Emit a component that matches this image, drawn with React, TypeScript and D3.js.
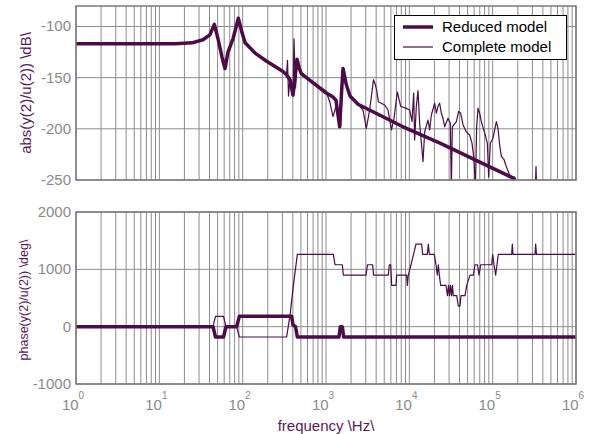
import React from "react";
import * as d3 from "d3";

// ---------- DATA ----------
const reducedMagFreq = [1, 15.4, 24.7, 33.4, 40.6, 45.7, 50.6, 56.5, 61.4, 66.7, 76.6, 88.7, 98.2, 107, 141, 194, 305, 334, 370, 402, 425, 449, 474, 505, 964, 1213, 1318, 1459, 1535, 1600, 1754, 1941, 2421, 8395, 23330, 175400, 185400];
const reducedMagDb = [-117, -117, -116, -113, -108, -98, -112, -130, -141, -125, -112, -92, -106, -116, -126, -134, -144, -147, -152, -167, -150, -132, -140, -146, -164, -169, -172, -198, -165, -141, -157, -168, -176, -198, -214, -248, -250];

const completeMagFreq = [1, 15.4, 24.7, 33.4, 40.6, 45.7, 50.6, 56.5, 61.4, 66.7, 76.6, 88.7, 98.2, 107, 141, 194, 305, 336, 345, 355, 370, 391, 402, 413, 431, 449, 474, 505, 643, 847, 1000, 1107, 1213, 1330, 1393, 1500, 1600, 1675, 1923, 2421, 2780, 3048, 3342, 3499, 3715, 3908, 4055, 4246, 5058, 5546, 6109, 6546, 7178, 7870, 9204, 10090, 10770, 11270, 11590, 12130, 12710, 13300, 14590, 15280, 16750, 17540, 18370, 20140, 21090, 22080, 23120, 24210, 25350, 26550, 29110, 31050, 31920, 32810, 36640, 39090, 41300, 44060, 48310, 52970, 56490, 59700, 61940, 64270, 66680, 69820, 73110, 80170, 86300, 89540, 93760, 100900, 110700, 115900, 121300, 127100, 136800, 145900, 160000, 175400, 183700, 195900, 322100, 331100, 340400, 1000000];
const completeMagDb = [-117, -117, -116, -113, -108, -98, -112, -130, -141, -125, -112, -92, -106, -116, -126, -134, -144, -148, -133, -168, -150, -160, -168, -112, -160, -133, -140, -145, -152, -159, -163, -173.5, -188, -177, -188, -198, -140, -152, -167, -176, -181.6, -199.5, -181.6, -168.6, -152, -157, -162, -173.5, -176.7, -181.6, -201, -189.7, -164, -178, -180, -181.6, -193, -165, -211, -178, -162.7, -194.6, -232, -203, -191.4, -201, -186.5, -175, -184.8, -178, -175, -184.8, -189.7, -198, -189.7, -194.6, -260, -198, -193, -183, -184.8, -196, -203, -206, -214, -230, -260, -198, -180, -184.8, -193, -204, -214, -247, -214, -209, -193, -199.5, -215.8, -227, -230, -237, -245, -248, -247, -262, -270, -237, -270, -280];

const reducedPhaseFreq = [1, 44.1, 47.2, 58.9, 63.1, 84.7, 91.2, 387, 402, 431, 453, 1432, 1486, 1570, 1629, 1000000];
const reducedPhaseDeg = [0, 0, -180, -180, 0, 0, 180, 180, 30, 0, -180, -180, 0, 0, -180, -180];

const completePhaseFreq = [1, 44.1, 47.2, 58.9, 63.1, 84.7, 91.2, 337, 370, 406, 453, 1225, 1283, 1570, 1614, 3020, 3148, 3631, 3715, 5598, 5754, 5970, 6138, 6918, 7047, 9290, 9462, 9727, 10470, 11220, 12020, 14060, 14450, 16440, 16900, 17380, 19950, 20890, 21680, 22280, 22910, 23770, 27540, 28710, 29510, 30340, 31190, 32060, 32960, 33730, 36980, 38730, 40550, 41690, 46560, 48750, 53460, 58610, 61380, 65770, 68550, 71780, 97270, 100000, 103700, 108600, 112700, 116900, 169000, 172200, 175400, 322100, 328100, 335700, 1000000];
const completePhaseDeg = [0, 0, 180, 180, 0, 0, -180, -180, 200, 720, 1260, 1260, 1080, 1080, 900, 900, 1080, 1080, 900, 900, 1080, 1080, 720, 720, 900, 900, 720, 900, 1080, 1260, 1440, 1440, 1260, 1260, 1440, 1260, 1260, 1080, 900, 1080, 900, 720, 720, 540, 720, 540, 720, 540, 720, 540, 540, 360, 360, 540, 540, 720, 900, 900, 1080, 1080, 900, 1080, 1080, 1260, 1080, 900, 1080, 1260, 1260, 1440, 1260, 1260, 1440, 1260, 1260];

const magTicks = [-250, -200, -150, -100];
const phaseTicks = [-1000, 0, 1000, 2000];
const decadeExponents = [0, 1, 2, 3, 4, 5, 6];
const legendLabels = ["Reduced model", "Complete model"];

// ---------- STYLE ----------
const W = 598;
const H = 434;
const LEFT = 76;
const RIGHT = 576;
const TOP1 = 6;
const BOT1 = 180;
const TOP2 = 212;
const BOT2 = 384;
const LINE = "#4b0c47";
const LABEL = "#5a1a58";
const TICK = "#8a8a8a";
const GRID = "#8c8c8c";
const FONT = "Liberation Sans, Arial, Helvetica, sans-serif";

export default function App() {
  const x = d3.scaleLog().domain([1, 1e6]).range([LEFT, RIGHT]);
  const yMag = d3.scaleLinear().domain([-250, -80]).range([BOT1, TOP1]);
  const yPh = d3.scaleLinear().domain([-1000, 2000]).range([BOT2, TOP2]);

  const minorTicks: number[] = [];
  for (let e = 0; e < 6; e++) {
    for (let m = 1; m <= 9; m++) minorTicks.push(m * Math.pow(10, e));
  }
  minorTicks.push(1e6);

  const mkLine = (fs: number[], vs: number[], y: d3.ScaleLinear<number, number>) =>
    d3.line<number>().x((_, i) => x(fs[i])).y((v) => y(v))(vs) || "";

  const magRed = mkLine(reducedMagFreq, reducedMagDb, yMag);
  const magCom = mkLine(completeMagFreq, completeMagDb, yMag);
  const phRed = mkLine(reducedPhaseFreq, reducedPhaseDeg, yPh);
  const phCom = mkLine(completePhaseFreq, completePhaseDeg, yPh);

  const panel = (top: number, bot: number, y: d3.ScaleLinear<number, number>, ticks: number[]) => (
    <g>
      {minorTicks.map((t, i) => (
        <line key={"v" + i} x1={x(t)} x2={x(t)} y1={top} y2={bot} stroke={GRID} strokeWidth={1} />
      ))}
      {ticks.map((t, i) => (
        <line key={"h" + i} x1={LEFT} x2={RIGHT} y1={y(t)} y2={y(t)} stroke={GRID} strokeWidth={1} />
      ))}
    </g>
  );

  const frame = (top: number, bot: number) => (
    <rect x={LEFT} y={top} width={RIGHT - LEFT} height={bot - top} fill="none" stroke="#7a7a7a" strokeWidth={1.5} />
  );

  const lx = 403;
  return (
    <svg width={W} height={H} style={{ position: "absolute", left: 0, top: 0, background: "#fff" }} fontFamily={FONT}>
      <defs>
        <clipPath id="c1">
          <rect x={LEFT} y={TOP1} width={RIGHT - LEFT} height={BOT1 - TOP1} />
        </clipPath>
        <clipPath id="c2">
          <rect x={LEFT} y={TOP2} width={RIGHT - LEFT} height={BOT2 - TOP2} />
        </clipPath>
      </defs>
      <rect x={0} y={0} width={W} height={H} fill="#fff" />
      {panel(TOP1, BOT1, yMag, magTicks)}
      {panel(TOP2, BOT2, yPh, phaseTicks)}

      <g clipPath="url(#c1)" fill="none" stroke={LINE} strokeLinejoin="round">
        <path d={magRed} strokeWidth={3.5} />
        <path d={magCom} strokeWidth={1.2} />
      </g>
      <g clipPath="url(#c2)" fill="none" stroke={LINE} strokeLinejoin="round">
        <path d={phRed} strokeWidth={3.5} />
        <path d={phCom} strokeWidth={1.2} />
      </g>
      {frame(TOP1, BOT1)}
      {frame(TOP2, BOT2)}

      {magTicks.map((t) => (
        <text key={"mt" + t} x={LEFT - 5} y={yMag(t) + 5} textAnchor="end" fontSize={15} fill={TICK}>
          {t}
        </text>
      ))}
      {phaseTicks.map((t) => (
        <text key={"pt" + t} x={LEFT - 5} y={yPh(t) + 5} textAnchor="end" fontSize={15} fill={TICK}>
          {t}
        </text>
      ))}
      {decadeExponents.map((e) => (
        <text key={"xt" + e} x={x(Math.pow(10, e)) - 3} y={410} textAnchor="middle" fontSize={15} fill={TICK}>
          10
          <tspan dy={-11} fontSize={10}>{e}</tspan>
        </text>
      ))}

      <text x={326} y={431} textAnchor="middle" fontSize={15} fill={LABEL}>
        frequency \Hz\
      </text>
      <text transform={`translate(31,${(TOP1 + BOT1) / 2}) rotate(-90)`} textAnchor="middle" fontSize={15} fill={LABEL}>
        abs(y(2)/u(2)) \dB\
      </text>
      <text transform={`translate(28,${(TOP2 + BOT2) / 2 + 2}) rotate(-90)`} textAnchor="middle" fontSize={12.5} fill={LABEL}>
        phase(y(2)/u(2)) \deg\
      </text>

      <g>
        <rect x={394.5} y={15.5} width={172} height={44} fill="#fff" stroke="#000" strokeWidth={1} />
        <line x1={lx} x2={433} y1={27} y2={27} stroke={LINE} strokeWidth={3.5} />
        <line x1={lx} x2={433} y1={47} y2={47} stroke={LINE} strokeWidth={1.2} />
        <text x={442} y={32} fontSize={15} fill="#000">{legendLabels[0]}</text>
        <text x={442} y={52} fontSize={15} fill="#000">{legendLabels[1]}</text>
      </g>
    </svg>
  );
}
